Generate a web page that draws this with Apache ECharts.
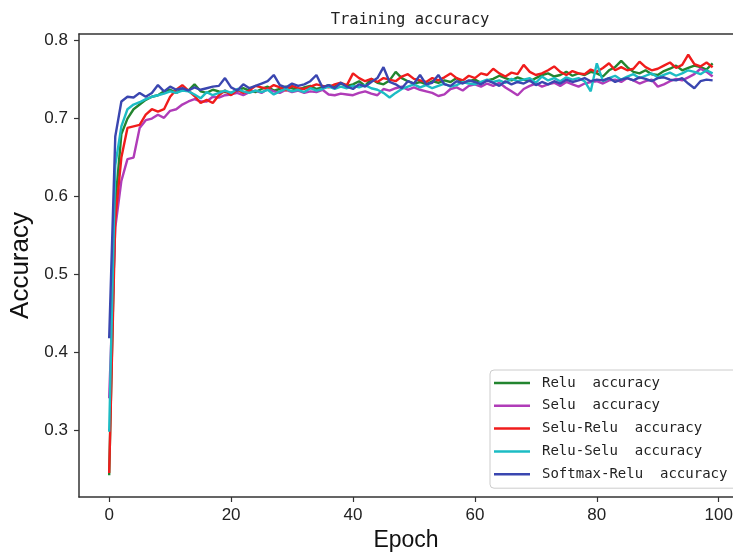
<!DOCTYPE html>
<html>
<head>
<meta charset="utf-8">
<script src="https://cdn.jsdelivr.net/npm/echarts@6/dist/echarts.min.js"></script>
<style>
html, body { margin: 0; padding: 0; background: #fff; }
#main { width: 733px; height: 552px; }
</style>
</head>
<body>
<div id="main"></div>
<script>
// accuracy per epoch (0..99)
var reluAcc = [0.242,0.590,0.680,0.700,0.712,0.718,0.724,0.728,0.730,0.735,0.737,0.733,0.738,0.736,0.744,0.735,0.733,0.737,0.735,0.734,
    0.733,0.736,0.739,0.736,0.734,0.738,0.741,0.736,0.738,0.741,0.739,0.737,0.740,0.742,0.738,0.740,0.743,0.741,0.745,0.742,
    0.744,0.748,0.742,0.751,0.746,0.744,0.749,0.760,0.752,0.748,0.745,0.747,0.744,0.748,0.746,0.749,0.747,0.752,0.746,0.748,
    0.750,0.746,0.749,0.751,0.755,0.752,0.749,0.753,0.750,0.748,0.752,0.756,0.758,0.754,0.756,0.760,0.755,0.758,0.756,0.760,
    0.758,0.754,0.762,0.766,0.774,0.766,0.760,0.758,0.762,0.757,0.756,0.761,0.764,0.768,0.762,0.765,0.768,0.766,0.763,0.771];
var seluAcc = [0.341,0.560,0.620,0.648,0.650,0.688,0.698,0.700,0.705,0.701,0.710,0.712,0.718,0.722,0.725,0.722,0.722,0.728,0.727,0.730,
    0.731,0.733,0.730,0.734,0.736,0.733,0.738,0.735,0.733,0.737,0.734,0.736,0.733,0.735,0.734,0.737,0.731,0.730,0.732,0.731,
    0.730,0.733,0.735,0.732,0.730,0.738,0.736,0.739,0.741,0.737,0.740,0.737,0.735,0.733,0.729,0.731,0.738,0.740,0.736,0.742,
    0.744,0.741,0.745,0.742,0.746,0.740,0.735,0.730,0.738,0.742,0.745,0.741,0.744,0.746,0.742,0.747,0.744,0.741,0.745,0.747,
    0.748,0.745,0.749,0.750,0.747,0.752,0.749,0.745,0.748,0.750,0.741,0.744,0.748,0.751,0.749,0.753,0.757,0.764,0.760,0.754];
var seluReluAcc = [0.245,0.570,0.650,0.688,0.690,0.692,0.705,0.712,0.709,0.712,0.728,0.737,0.743,0.736,0.729,0.720,0.724,0.720,0.730,0.736,
    0.730,0.737,0.733,0.736,0.742,0.740,0.738,0.743,0.740,0.736,0.742,0.739,0.738,0.741,0.744,0.742,0.740,0.744,0.746,0.743,
    0.758,0.752,0.748,0.751,0.747,0.752,0.750,0.748,0.754,0.757,0.751,0.749,0.747,0.752,0.749,0.753,0.758,0.752,0.749,0.755,
    0.752,0.758,0.756,0.764,0.758,0.754,0.759,0.757,0.769,0.760,0.756,0.758,0.762,0.767,0.760,0.756,0.761,0.758,0.757,0.763,
    0.760,0.765,0.771,0.762,0.766,0.762,0.764,0.773,0.766,0.762,0.764,0.768,0.772,0.765,0.769,0.782,0.770,0.767,0.772,0.766];
var reluSeluAcc = [0.298,0.640,0.690,0.712,0.718,0.721,0.725,0.728,0.730,0.732,0.735,0.733,0.736,0.735,0.731,0.726,0.734,0.730,0.733,0.736,
    0.733,0.738,0.735,0.733,0.736,0.734,0.737,0.731,0.735,0.738,0.735,0.737,0.734,0.739,0.736,0.738,0.741,0.738,0.741,0.739,
    0.742,0.740,0.743,0.739,0.737,0.733,0.727,0.733,0.738,0.741,0.744,0.740,0.743,0.739,0.742,0.745,0.741,0.743,0.747,0.745,
    0.744,0.747,0.750,0.747,0.749,0.746,0.751,0.748,0.750,0.752,0.746,0.754,0.749,0.752,0.748,0.753,0.750,0.752,0.748,0.735,
    0.771,0.748,0.752,0.755,0.750,0.754,0.757,0.752,0.755,0.758,0.753,0.756,0.759,0.755,0.758,0.762,0.760,0.757,0.762,0.758];
var softmaxReluAcc = [0.418,0.677,0.722,0.728,0.727,0.733,0.728,0.733,0.743,0.735,0.741,0.737,0.739,0.736,0.740,0.737,0.739,0.741,0.742,0.752,
    0.740,0.736,0.744,0.739,0.742,0.745,0.748,0.756,0.743,0.740,0.745,0.742,0.744,0.748,0.756,0.740,0.743,0.739,0.746,0.741,
    0.738,0.744,0.741,0.747,0.752,0.766,0.747,0.744,0.739,0.748,0.745,0.756,0.744,0.746,0.756,0.744,0.742,0.748,0.745,0.749,
    0.747,0.744,0.749,0.746,0.742,0.748,0.744,0.747,0.745,0.749,0.743,0.747,0.744,0.748,0.745,0.750,0.747,0.749,0.752,0.748,
    0.750,0.749,0.752,0.747,0.750,0.752,0.749,0.753,0.751,0.748,0.752,0.753,0.750,0.749,0.752,0.745,0.739,0.748,0.750,0.749];

var seriesNames = ['Relu  accuracy', 'Selu  accuracy', 'Selu-Relu  accuracy', 'Relu-Selu  accuracy', 'Softmax-Relu  accuracy'];
var seriesColors = ['#22852f', '#b03cb8', '#f01c1c', '#1cbcc4', '#3a46b0'];
var xTicks = [0, 20, 40, 60, 80, 100];
var yTicks = [0.3, 0.4, 0.5, 0.6, 0.7, 0.8];

var allData = [reluAcc, seluAcc, seluReluAcc, reluSeluAcc, softmaxReluAcc];

var chart = echarts.init(document.getElementById('main'));

chart.setOption({
    animation: false,
    backgroundColor: '#fff',
    title: {
        text: 'Training accuracy',
        left: 405,
        textAlign: 'center',
        top: 7,
        textStyle: {
            fontFamily: 'DejaVu Sans Mono',
            fontSize: 15.5,
            fontWeight: 'normal',
            color: '#222'
        }
    },
    grid: {
        left: 79,
        right: 0,
        top: 34,
        bottom: 55,
        outerBoundsMode: 'none'
    },
    legend: {
        orient: 'vertical',
        left: 490,
        top: 370,
        padding: [6, 20, 7, 4],
        icon: 'rect',
        itemWidth: 36,
        itemHeight: 2.5,
        itemGap: 8.8,
        borderColor: '#cccccc',
        borderWidth: 1,
        borderRadius: 4,
        backgroundColor: 'rgba(255,255,255,0.85)',
        data: seriesNames,
        textStyle: {
            fontFamily: 'DejaVu Sans Mono',
            fontSize: 14,
            lineHeight: 14,
            color: '#222',
            padding: [0, 0, 0, 7]
        }
    },
    xAxis: [{
        type: 'value',
        min: -4.95,
        max: 102.34,
        name: 'Epoch',
        nameLocation: 'middle',
        nameGap: 32,
        nameTextStyle: {
            fontFamily: 'Liberation Sans',
            fontSize: 23,
            color: '#111'
        },
        splitLine: { show: false },
        axisLine: { onZero: false, lineStyle: { color: '#333', width: 1.5 } },
        axisTick: {
            customValues: xTicks,
            length: 5,
            lineStyle: { color: '#333', width: 1.2 }
        },
        axisLabel: {
            customValues: xTicks,
            margin: 10,
            fontFamily: 'Liberation Sans',
            fontSize: 17,
            color: '#222'
        }
    }, {
        // top frame line
        type: 'value',
        position: 'top',
        min: -4.95,
        max: 102.34,
        splitLine: { show: false },
        axisLine: { onZero: false, lineStyle: { color: '#333', width: 1.5 } },
        axisTick: { show: false },
        axisLabel: { show: false }
    }],
    yAxis: {
        type: 'value',
        min: 0.2142,
        max: 0.8086,
        name: 'Accuracy',
        nameLocation: 'middle',
        nameGap: 45,
        nameTextStyle: {
            fontFamily: 'Liberation Sans',
            fontSize: 26,
            color: '#111'
        },
        splitLine: { show: false },
        axisLine: { show: true, onZero: false, lineStyle: { color: '#333', width: 1.5 } },
        axisTick: {
            show: true,
            customValues: yTicks,
            length: 5,
            lineStyle: { color: '#333', width: 1.2 }
        },
        axisLabel: {
            customValues: yTicks,
            margin: 11,
            fontFamily: 'Liberation Sans',
            fontSize: 17,
            color: '#222',
            formatter: function (v) { return v.toFixed(1); }
        }
    },
    series: allData.map(function (vals, k) {
        return {
            name: seriesNames[k],
            type: 'line',
            symbol: 'none',
            color: seriesColors[k],
            lineStyle: { width: 2.4, color: seriesColors[k] },
            data: vals.map(function (v, i) { return [i, v]; })
        };
    })
});
</script>
</body>
</html>
